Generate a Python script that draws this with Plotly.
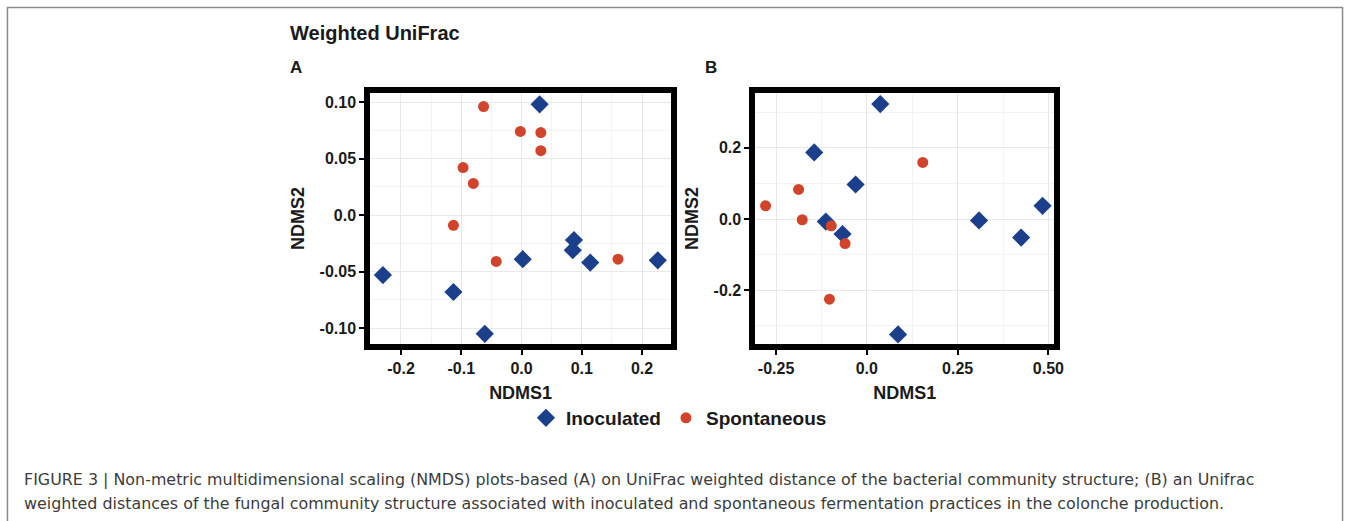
import plotly.graph_objects as go

# ---------------- data ----------------
a_inoc_x = [0.030, -0.230, -0.113, -0.061, 0.002, 0.087, 0.085, 0.114, 0.226]
a_inoc_y = [0.098, -0.053, -0.068, -0.105, -0.039, -0.022, -0.031, -0.042, -0.040]
a_spon_x = [-0.063, -0.002, 0.032, 0.032, -0.097, -0.080, -0.113, -0.042, 0.160]
a_spon_y = [0.096, 0.074, 0.073, 0.057, 0.042, 0.028, -0.009, -0.041, -0.039]

b_inoc_x = [0.037, -0.145, -0.031, -0.113, -0.067, 0.086, 0.309, 0.425, 0.484]
b_inoc_y = [0.323, 0.187, 0.097, -0.007, -0.042, -0.324, -0.004, -0.052, 0.037]
b_spon_x = [-0.279, -0.188, -0.178, -0.098, -0.060, -0.103, 0.154]
b_spon_y = [0.037, 0.083, -0.002, -0.019, -0.069, -0.225, 0.159]

a_xticks = [-0.2, -0.1, 0.0, 0.1, 0.2]
a_xlabels = ["-0.2", "-0.1", "0.0", "0.1", "0.2"]
a_yticks = [-0.10, -0.05, 0.0, 0.05, 0.10]
a_ylabels = ["-0.10", "-0.05", "0.0", "0.05", "0.10"]
b_xticks = [-0.25, 0.0, 0.25, 0.50]
b_xlabels = ["-0.25", "0.0", "0.25", "0.50"]
b_yticks = [-0.2, 0.0, 0.2]
b_ylabels = ["-0.2", "0.0", "0.2"]

groups = ["Inoculated", "Spontaneous"]
title_text = "Weighted UniFrac"
caption_1 = ("FIGURE 3 | Non-metric multidimensional scaling (NMDS) plots-based (A) on UniFrac weighted "
             "distance of the bacterial community structure; (B) an Unifrac")
caption_2 = ("weighted distances of the fungal community structure associated with inoculated and "
             "spontaneous fermentation practices in the colonche production.")

# ---------------- styling ----------------
W, H = 1359, 521
BLUE = "#1b3f8b"
RED = "#d2432b"
FONT = "Liberation Sans, Arial, sans-serif"


def mids(t):
    step = t[1] - t[0]
    return [t[0] - step / 2] + [(t[i] + t[i + 1]) / 2 for i in range(len(t) - 1)] + [t[-1] + step / 2]


fig = go.Figure()

fig.add_trace(go.Scatter(x=a_inoc_x, y=a_inoc_y, mode="markers", name=groups[0],
                         marker=dict(symbol="diamond", size=14, color=BLUE),
                         xaxis="x", yaxis="y", legendgroup="i"))
fig.add_trace(go.Scatter(x=a_spon_x, y=a_spon_y, mode="markers", name=groups[1],
                         marker=dict(symbol="circle", size=11, color=RED),
                         xaxis="x", yaxis="y", legendgroup="s"))
fig.add_trace(go.Scatter(x=b_inoc_x, y=b_inoc_y, mode="markers", name=groups[0],
                         marker=dict(symbol="diamond", size=14, color=BLUE),
                         xaxis="x2", yaxis="y2", legendgroup="i", showlegend=False))
fig.add_trace(go.Scatter(x=b_spon_x, y=b_spon_y, mode="markers", name=groups[1],
                         marker=dict(symbol="circle", size=11, color=RED),
                         xaxis="x2", yaxis="y2", legendgroup="s", showlegend=False))

tickfont = dict(family=FONT, size=16, color="#1a1a1a", weight="bold")
titlefont = dict(family=FONT, size=18, color="#1a1a1a", weight="bold")


def ax(domain, rng, tv, tt, mv, title, anchor, standoff):
    return dict(domain=domain, range=rng, tickmode="array", tickvals=tv, ticktext=tt,
                tickfont=tickfont, ticks="outside", ticklen=5, tickwidth=2, tickcolor="black",
                showline=True, linewidth=6, linecolor="black", mirror=True,
                showgrid=True, gridcolor="#e8e8e8", gridwidth=1, zeroline=False,
                minor=dict(tickmode="array", tickvals=mv, showgrid=True,
                           gridcolor="#f3f3f3", gridwidth=1, ticks=""),
                title=dict(text=title, font=titlefont, standoff=standoff),
                anchor=anchor, fixedrange=True)


ydom = [1 - 344 / H, 1 - 93 / H]
fig.update_layout(
    xaxis=ax([373 / W, 676 / W], [-0.251, 0.248], a_xticks, a_xlabels, mids(a_xticks), "NDMS1", "y", 12),
    yaxis=ax(ydom, [-0.114, 0.108], a_yticks, a_ylabels, mids(a_yticks), "NDMS2", "x", 12),
    xaxis2=ax([761 / W, 1062 / W], [-0.307, 0.516], b_xticks, b_xlabels, mids(b_xticks), "NDMS1", "y2", 12),
    yaxis2=ax(ydom, [-0.351, 0.354], b_yticks, b_ylabels, mids(b_yticks), "NDMS2", "x2", 12),
)

fig.update_layout(
    width=W, height=H,
    margin=dict(l=0, r=0, t=0, b=0),
    paper_bgcolor="white", plot_bgcolor="white",
    showlegend=True,
    legend=dict(orientation="h", x=684 / W, xanchor="center", y=1 - 418 / H, yanchor="middle",
                font=dict(family=FONT, size=19, color="#1a1a1a", weight="bold"),
                itemsizing="trace", bgcolor="rgba(0,0,0,0)", tracegroupgap=0),
)

annotations = [
    dict(text=title_text, x=290 / W, y=1 - 33 / H, xanchor="left", yanchor="middle",
         font=dict(family=FONT, size=20, color="#1a1a1a", weight="bold")),
    dict(text="A", x=290 / W, y=1 - 67 / H, xanchor="left", yanchor="middle",
         font=dict(family=FONT, size=17, color="#1a1a1a", weight="bold")),
    dict(text="B", x=708 / W, y=1 - 67 / H, xanchor="left", yanchor="middle",
         font=dict(family=FONT, size=17, color="#1a1a1a", weight="bold")),
    dict(text=caption_1, x=22 / W, y=1 - 479 / H, xanchor="left", yanchor="middle",
         font=dict(family="DejaVu Sans, sans-serif", size=15.9, color="#3c3c3c")),
    dict(text=caption_2, x=22 / W, y=1 - 503 / H, xanchor="left", yanchor="middle",
         font=dict(family="DejaVu Sans, sans-serif", size=15.9, color="#3c3c3c")),
]
for a in annotations:
    a.update(xref="paper", yref="paper", showarrow=False)
fig.update_layout(annotations=annotations)

fig.add_shape(type="rect", xref="paper", yref="paper",
              x0=7.5 / W, x1=1352.5 / W, y0=-0.2, y1=1 - 7.5 / H,
              line=dict(color="#8a8a8a", width=1.5), fillcolor="rgba(0,0,0,0)", layer="below")

fig.write_html("out.html")
